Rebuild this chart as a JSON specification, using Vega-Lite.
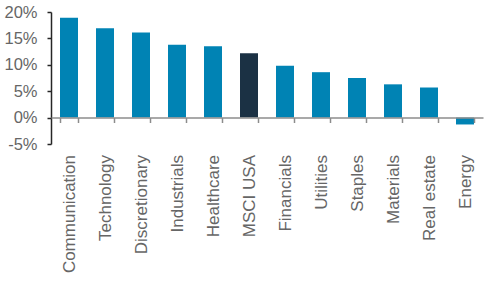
{
  "$schema": "https://vega.github.io/schema/vega-lite/v6.json",
  "autosize": "none",
  "width": 432,
  "height": 132,
  "padding": {"left": 51, "top": 12, "right": 13, "bottom": 137},
  "background": "white",
  "config": {"view": {"stroke": null}, "font": "Liberation Sans"},
  "data": {"values": [
    {"sector": "Communication", "ret": 18.9, "kind": "sector"},
    {"sector": "Technology", "ret": 16.9, "kind": "sector"},
    {"sector": "Discretionary", "ret": 16.1, "kind": "sector"},
    {"sector": "Industrials", "ret": 13.8, "kind": "sector"},
    {"sector": "Healthcare", "ret": 13.5, "kind": "sector"},
    {"sector": "MSCI USA", "ret": 12.2, "kind": "index"},
    {"sector": "Financials", "ret": 9.8, "kind": "sector"},
    {"sector": "Utilities", "ret": 8.6, "kind": "sector"},
    {"sector": "Staples", "ret": 7.5, "kind": "sector"},
    {"sector": "Materials", "ret": 6.3, "kind": "sector"},
    {"sector": "Real estate", "ret": 5.7, "kind": "sector"},
    {"sector": "Energy", "ret": -1.3, "kind": "sector"}
  ]},
  "mark": {"type": "bar"},
  "encoding": {
    "x": {
      "field": "sector", "type": "nominal", "sort": null,
      "scale": {"paddingInner": 0.5, "paddingOuter": 0.25},
      "axis": {
        "title": null, "offset": -26.5, "labelAngle": -90,
        "tickBand": "extent", "tickExtra": true,
        "domainColor": "#8c8c8c", "domainWidth": 1.5,
        "tickColor": "#8c8c8c", "tickSize": 5, "tickWidth": 1.5,
        "labelPadding": 32, "labelFontSize": 17, "labelColor": "#666666",
        "zindex": 1
      }
    },
    "y": {
      "field": "ret", "type": "quantitative",
      "scale": {"domain": [-5, 20], "nice": false, "zero": false},
      "axis": {
        "title": null, "values": [-5, 0, 5, 10, 15, 20],
        "labelExpr": "datum.value + '%'", "grid": false,
        "domainColor": "#262626", "domainWidth": 1.5,
        "tickColor": "#262626", "tickSize": 4, "tickWidth": 1.5,
        "labelPadding": 10, "labelFontSize": 16.5, "labelColor": "#666666"
      }
    },
    "color": {
      "field": "kind", "type": "nominal",
      "scale": {"domain": ["sector", "index"], "range": ["#0083B4", "#1B3144"]},
      "legend": null
    }
  }
}
